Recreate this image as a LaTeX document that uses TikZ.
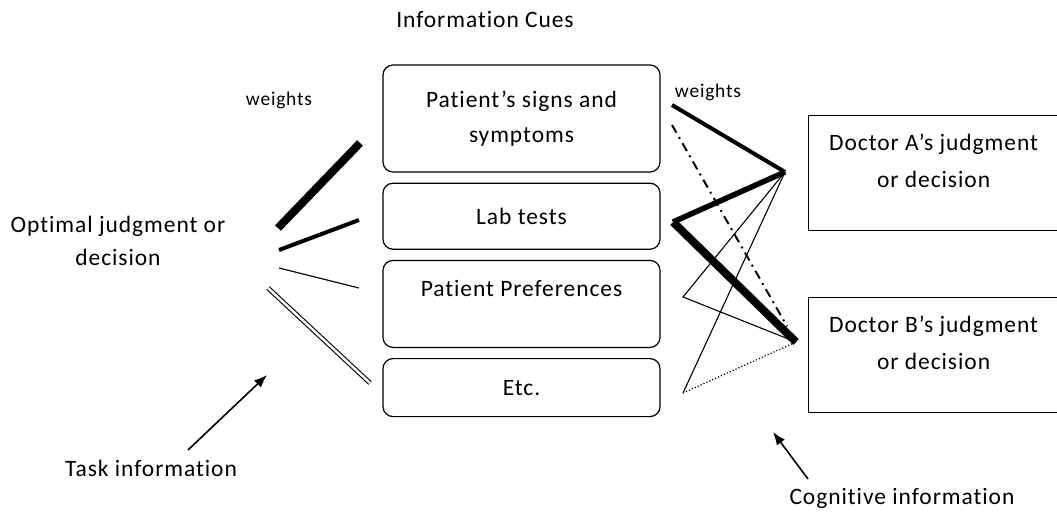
\documentclass[tikz,border=0pt]{standalone}
\usepackage{fontspec}
\setmainfont{Carlito}[LetterSpace=4.0, Ligatures=NoCommon]
\usetikzlibrary{positioning,arrows.meta}

\begin{document}
\begin{tikzpicture}[
        x=1pt, y=-1pt,
        cue/.style={rectangle, draw, rounded corners=10pt, line width=1.2pt, minimum width=277pt, inner sep=0pt, align=center, font=\fontsize{23.5}{35}\selectfont},
        doctor/.style={rectangle, draw, line width=1.2pt, minimum width=250pt, minimum height=115pt, anchor=north west, inner sep=0pt, align=center, font=\fontsize{23.5}{37}\selectfont},
        caption/.style={align=center, inner sep=0pt, font=\fontsize{23.5}{33}\selectfont},
        wlabel/.style={inner sep=0pt, font=\fontsize{19.5}{20}\selectfont},
        arrow/.style={-{Latex[length=13pt, width=10pt]}, line width=1.6pt}
    ]
    \clip (0,0) rectangle (1057,516);

    % Middle column - information cues
    \node[caption] (cues) at (485,20) {Information Cues};
    \node[cue, minimum height=107pt] (signs) at (521.5,118.5) {Patient’s signs and\\symptoms};
    \node[cue, minimum height=66pt, below=10pt of signs] (lab) {Lab tests};
    \node[cue, minimum height=87pt, below=10pt of lab] (pref) {Patient Preferences\\[-3.5pt]\mbox{}};
    \node[cue, minimum height=58pt, below=10pt of pref] (etc) {Etc.};

    % Left side - optimal judgment and its weights
    \node[caption] (optimal) at (118,241) {Optimal judgment or\\decision};
    \node[wlabel] (wleft) at (279,100) {weights};
    \coordinate (t1) at (278,228); \coordinate (t1e) at (360,143);
    \coordinate (t2) at (279,250); \coordinate (t2e) at (359,220);
    \coordinate (t3) at (279,268); \coordinate (t3e) at (359,288);
    \coordinate (t4) at (268,288); \coordinate (t4e) at (370,383);
    \draw[line width=8pt] (t1) -- (t1e);
    \draw[line width=4pt] (t2) -- (t2e);
    \draw[line width=1.2pt] (t3) -- (t3e);
    \draw[double, double distance=2.5pt, line width=1.1pt] (t4) -- (t4e);

    % Right side - the two doctors
    \node[doctor] (docA) at (808,115) {Doctor A’s judgment\\or decision\\[-12pt]\mbox{}};
    \node[doctor] (docB) at (808,297) {Doctor B’s judgment\\or decision\\[-12pt]\mbox{}};
    \node[wlabel] (wright) at (708,92) {weights};

    % Cue weights used by each doctor
    \coordinate (hubA) at (785,172);
    \coordinate (hubB) at (796,342);
    \coordinate (c1) at (672,105);
    \coordinate (c1b) at (672,125);
    \coordinate (c2) at (673,222);
    \coordinate (c3) at (683,297);
    \coordinate (c4) at (683,393);
    \draw[line width=4pt] (c1) -- (hubA);
    \draw[line width=2pt, dash pattern=on 9pt off 5pt on 2pt off 5pt, shorten >=18pt] (c1b) -- (hubB);
    \draw[line width=5.5pt, line join=miter] (hubA) -- (c2);
    \draw[line width=8pt] (c2) -- (hubB);
    \draw[line width=1.1pt] (hubA) -- (c3) -- (hubB);
    \draw[line width=1.1pt] (hubA) -- (c4);
    \draw[line width=1.2pt, dotted] (c4) -- (hubB);

    % Bottom labels
    \node[caption] (task) at (151,468) {Task information};
    \node[caption] (cognitive) at (902,498) {Cognitive information};
    \coordinate (taskTail) at (188,450);
    \coordinate (taskTip) at (267,375);
    \coordinate (cogTail) at (808,479);
    \coordinate (cogTip) at (773,432);
    \draw[arrow] (taskTail) -- (taskTip);
    \draw[arrow] (cogTail) -- (cogTip);

\end{tikzpicture}
\end{document}
